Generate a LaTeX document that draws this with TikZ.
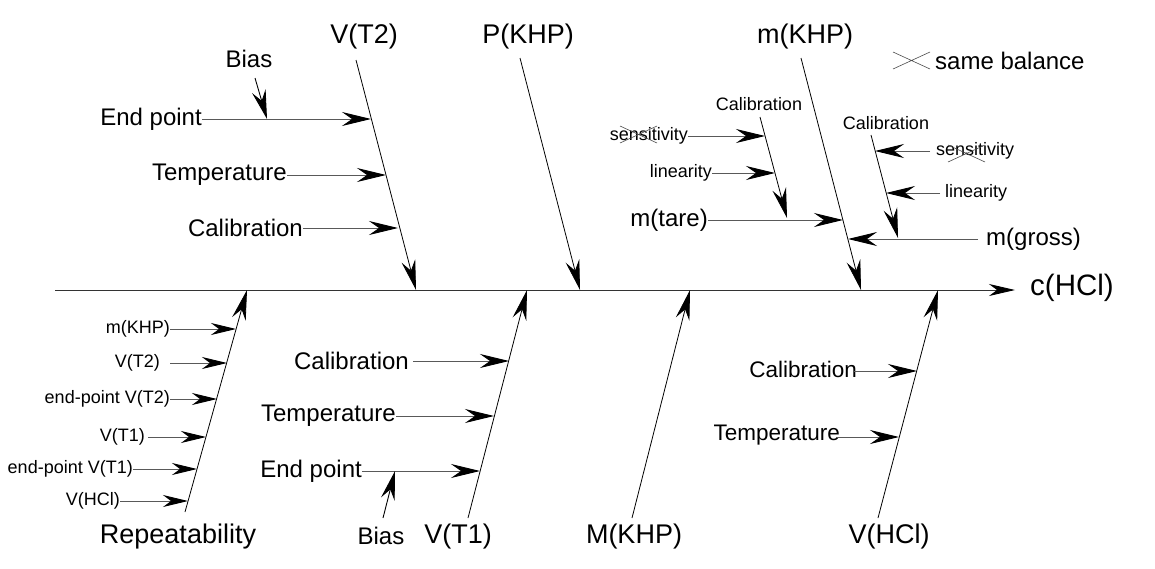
\documentclass[tikz,border=0pt]{standalone}
\usepackage{fontspec}
\setmainfont{Liberation Sans}
\usetikzlibrary{arrows.meta}
\begin{document}
\begin{tikzpicture}[x=1pt,y=-1pt,
  big/.style={font=\fontsize{27}{30}\selectfont, inner sep=0pt},
  mid/.style={font=\fontsize{24}{28}\selectfont, inner sep=0pt},
  mids/.style={font=\fontsize{22.5}{26}\selectfont, inner sep=0pt},
  sml/.style={font=\fontsize{18}{21}\selectfont, inner sep=0pt},
  bone/.style={draw=black, line width=0.8pt, -{Stealth[length=30pt,width=14pt,inset=10pt,color=black]}},
  rib/.style={draw=black!65, line width=0.9pt, -{Stealth[length=29pt,width=14pt,inset=10pt,color=black]}},
  srib/.style={draw=black!65, line width=0.9pt, -{Stealth[length=25pt,width=12pt,inset=8pt,color=black]}},
  cross/.style={draw=black!70, line width=0.6pt}
]
\useasboundingbox (0,0) rectangle (1155,568);
% spine
\coordinate (s0) at (55,290);
\coordinate (s1) at (1015,290);
\draw[black!80, line width=0.9pt, -{Stealth[length=26pt,width=12pt,inset=8pt,color=black]}] (s0) -- (s1);
\node[font=\fontsize{29.5}{32}\selectfont, inner sep=0pt, anchor=west] (chcl) at (1030,288) {c(HCl)};

% ---------- V(T2) ----------
\node[big] (vt2) at (364,37) {V(T2)};
\coordinate (vt2t) at (356,60);
\coordinate (vt2b) at (416,290);
\draw[bone] (vt2t) -- (vt2b);
\node[mid, anchor=east] (ep2) at (202,119) {End point};
\coordinate (vt2a) at (371,119);
\draw[rib] (ep2.east) -- (vt2a);
\node[mid] (bias2) at (249,59) {Bias};
\coordinate (bias2s) at (255,78);
\coordinate (bias2e) at (267,119);
\draw[rib, draw=black] (bias2s) -- (bias2e);
\node[mid, anchor=east] (tm2) at (287,175) {Temperature};
\coordinate (vt2c) at (386,175);
\draw[rib] (tm2.east) -- (vt2c);
\node[mid, anchor=east] (cal2) at (303,228) {Calibration};
\coordinate (vt2d) at (398,228);
\draw[rib] (cal2.east) -- (vt2d);

% ---------- P(KHP) ----------
\node[big] (pkhp) at (528,37) {P(KHP)};
\coordinate (pkt) at (520,58);
\coordinate (pkb) at (580,290);
\draw[bone] (pkt) -- (pkb);

% ---------- m(KHP) ----------
\node[big] (mkhp) at (805,37) {m(KHP)};
\coordinate (mkt) at (801,58);
\coordinate (mkb) at (861,290);
\draw[bone] (mkt) -- (mkb);
% left calibration (tare)
\node[sml] (calL) at (759,104) {Calibration};
\coordinate (cLt) at (760,117);
\coordinate (cLb) at (787,218);
\draw[bone] (cLt) -- (cLb);
\node[sml, anchor=east] (senL) at (688,136) {sensitivity};
\coordinate (cLa) at (765,136);
\draw[rib] (senL.east) -- (cLa);
\draw[cross] (620,126) -- (657,143) (620,143) -- (657,126);
\node[sml, anchor=east] (linL) at (712,173) {linearity};
\coordinate (cLc) at (775,173);
\draw[rib] (linL.east) -- (cLc);
\node[mid, anchor=east] (tare) at (708,220) {m(tare)};
\coordinate (mka) at (843,220);
\draw[rib] (tare.east) -- (mka);
% right calibration (gross)
\node[sml] (calR) at (886,123) {Calibration};
\coordinate (cRt) at (871,135);
\coordinate (cRb) at (898,238);
\draw[bone] (cRt) -- (cRb);
\node[sml, anchor=west] (senR) at (936,151) {sensitivity};
\coordinate (cRa) at (875,151);
\draw[rib] (senR.west) ++(-6,0) -- (cRa);
\draw[cross] (948,145) -- (985,162) (948,162) -- (985,145);
\node[sml, anchor=west] (linR) at (945,193) {linearity};
\coordinate (cRc) at (886,193);
\draw[rib] (linR.west) ++(-5,0) -- (cRc);
\node[mid, anchor=west] (gross) at (986,239) {m(gross)};
\coordinate (mkc) at (848,239);
\draw[rib] (gross.west) ++(-8,0) -- (mkc);
% legend
\draw[cross] (893,52) -- (930,69) (893,69) -- (930,52);
\node[mid, anchor=west] (same) at (935,61) {same balance};

% ---------- Repeatability ----------
\node[big] (rep) at (178,537) {Repeatability};
\coordinate (rpb) at (185,512);
\coordinate (rpt) at (247,290);
\draw[bone] (rpb) -- (rpt);
\node[sml, anchor=east] (r1) at (170,329) {m(KHP)};
\coordinate (rp1) at (236,329);
\draw[srib] (r1.east) -- (rp1);
\node[sml, anchor=east] (r2) at (160,363) {V(T2)};
\coordinate (rp2) at (227,363);
\draw[srib] (r2.east) ++(10,0) -- (rp2);
\node[sml, anchor=east] (r3) at (170,399) {end-point V(T2)};
\coordinate (rp3) at (217,399);
\draw[srib] (r3.east) -- (rp3);
\node[sml, anchor=east] (r4) at (145,437) {V(T1)};
\coordinate (rp4) at (206,437);
\draw[srib] (r4.east) ++(3,0) -- (rp4);
\node[sml, anchor=east] (r5) at (133,469) {end-point V(T1)};
\coordinate (rp5) at (197,469);
\draw[srib] (r5.east) -- (rp5);
\node[sml, anchor=east] (r6) at (120,501) {V(HCl)};
\coordinate (rp6) at (188,501);
\draw[srib] (r6.east) -- (rp6);

% ---------- V(T1) ----------
\node[big] (vt1) at (458,537) {V(T1)};
\coordinate (vt1b) at (468,518);
\coordinate (vt1t) at (527,290);
\draw[bone] (vt1b) -- (vt1t);
\node[mid, anchor=east] (cal1) at (409,361) {Calibration};
\coordinate (vt1a) at (509,361);
\draw[rib] (cal1.east) ++(4,0) -- (vt1a);
\node[mid, anchor=east] (tm1) at (396,416) {Temperature};
\coordinate (vt1c) at (494,416);
\draw[rib] (tm1.east) -- (vt1c);
\node[mid, anchor=east] (ep1) at (362,471) {End point};
\coordinate (vt1d) at (480,471);
\draw[rib] (ep1.east) -- (vt1d);
\node[mid] (bias1) at (381,536) {Bias};
\coordinate (bias1s) at (383,518);
\coordinate (bias1e) at (395,471);
\draw[rib, draw=black] (bias1s) -- (bias1e);

% ---------- M(KHP) ----------
\node[big] (MKHP) at (634,537) {M(KHP)};
\coordinate (Mkb) at (632,518);
\coordinate (Mkt) at (690,290);
\draw[bone] (Mkb) -- (Mkt);

% ---------- V(HCl) ----------
\node[big] (vhcl) at (889,537) {V(HCl)};
\coordinate (vhb) at (878,518);
\coordinate (vht) at (938,290);
\draw[bone] (vhb) -- (vht);
\node[mids, anchor=east] (calH) at (857,369) {Calibration};
\coordinate (vha) at (917,371);
\draw[rib] (calH.east) ++(-3,2) -- (vha);
\node[mids, anchor=east] (tmH) at (840,435) {Temperature};
\coordinate (vhc) at (899,437);
\draw[rib] (tmH.east) ++(-3,2) -- (vhc);
\end{tikzpicture}
\end{document}
